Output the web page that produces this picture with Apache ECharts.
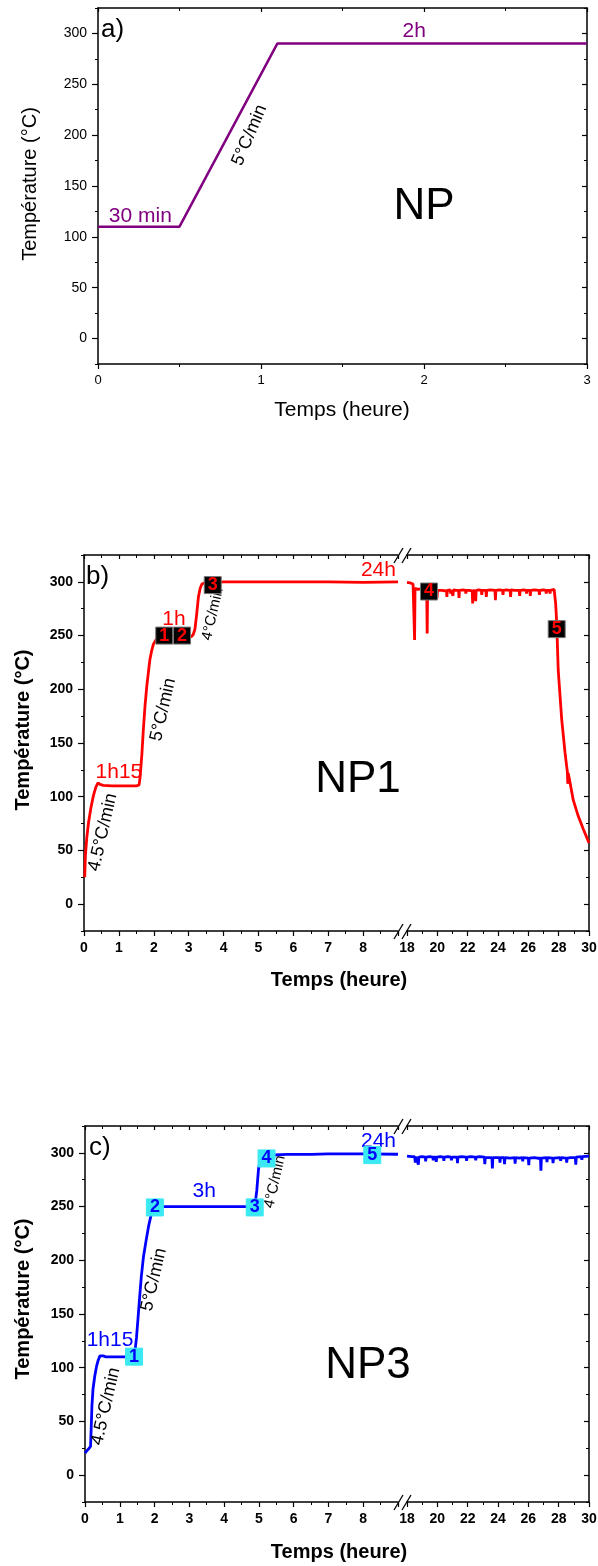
<!DOCTYPE html>
<html>
<head>
<meta charset="utf-8">
<title>Profils de température NP / NP1 / NP3</title>
<script src="https://cdn.jsdelivr.net/npm/echarts@6.0.0/dist/echarts.min.js"></script>
<style>
  html, body { margin: 0; padding: 0; background: #fff; }
  #chart { width: 598px; height: 1566px; }
</style>
</head>
<body>
<div id="chart"></div>
<script>
const FONT = 'Arial, "Liberation Sans", sans-serif';

// ---- values ----
const yTicks = [0, 50, 100, 150, 200, 250, 300];
const yMinor = [-25, 25, 75, 125, 175, 225, 275, 325];

// a) NP : programmed profile  [heure, °C]
const npProfile = [[0, 110], [0.5, 110], [1.1, 290], [3, 290]];
const npNoteText = ['30 min', '5°C/min', '2h'];
const npNoteTime = [0.26, 0.93, 1.94];
const npNoteTemp = [120, 200, 302];

// b) NP1 : measured, 0-9 h then 18-30 h
const np1Early = [
  [0.02, 25], [0.04, 45], [0.08, 62], [0.13, 76], [0.2, 90], [0.27, 101], [0.34, 109], [0.4, 113],
  [0.46, 111.5], [0.55, 110.5], [0.8, 110], [1.2, 110], [1.5, 110], [1.58, 111], [1.61, 119],
  [1.66, 140], [1.7, 162], [1.75, 185], [1.8, 203], [1.85, 217], [1.89, 228], [1.94, 236],
  [1.99, 242], [2.06, 246], [2.13, 248], [2.2, 249.5], [2.5, 250], [2.8, 249.5], [3.08, 249],
  [3.13, 251], [3.18, 256], [3.23, 270], [3.28, 286], [3.33, 294], [3.38, 298], [3.45, 299],
  [3.6, 299], [4.0, 300], [5.0, 300], [6.0, 300], [7.0, 300], [8.0, 299.5], [9.0, 300]
];
const np1Late = [
  [18.0, 299.5], [18.2, 299], [18.4, 298], [18.47, 297], [18.5, 246], [18.53, 294], [18.7, 293],
  [18.9, 293.5], [19.1, 292.5], [19.3, 292], [19.33, 252], [19.36, 292], [19.6, 292.5], [19.75, 292],
  [19.78, 288], [19.81, 292], [19.95, 292.5], [19.98, 285], [20.01, 292], [20.3, 292], [20.6, 291.5],
  [20.63, 286], [20.66, 292], [20.85, 292.5], [20.88, 289], [20.91, 292], [21.0, 292], [21.03, 287],
  [21.06, 292.5], [21.25, 292], [21.4, 292], [21.43, 285], [21.46, 292], [21.7, 292.5], [21.85, 292],
  [21.88, 289], [21.91, 292], [22.1, 292], [22.3, 291.5], [22.33, 280], [22.36, 292], [22.5, 291.5],
  [22.53, 282], [22.56, 292], [22.75, 292.5], [22.9, 292], [22.93, 288], [22.96, 292], [23.2, 292],
  [23.23, 286], [23.26, 292], [23.5, 292.5], [23.8, 292], [23.83, 283], [23.86, 292], [24.1, 292.5],
  [24.3, 292], [24.33, 288], [24.36, 292], [24.55, 292.5], [24.8, 292], [24.83, 286], [24.86, 292.5],
  [25.1, 292], [25.4, 292], [25.43, 287], [25.46, 292], [25.7, 292.5], [25.85, 292], [25.88, 289],
  [25.91, 292], [26.1, 292], [26.13, 287], [26.16, 292], [26.4, 292.5], [26.7, 292], [26.73, 288],
  [26.76, 292], [27.0, 292.5], [27.15, 292], [27.18, 289], [27.21, 292], [27.4, 292], [27.43, 289],
  [27.46, 292], [27.7, 293], [27.8, 280], [27.87, 262], [27.97, 218], [28.2, 172], [28.42, 141],
  [28.53, 128], [28.57, 124], [28.6, 112], [28.63, 122], [28.7, 117], [28.96, 97], [29.29, 82],
  [29.62, 70], [30.0, 57]
];
const np1NoteText = ['1h15', '4.5°C/min', '5°C/min', '1h', '4°C/min', '24h'];
const np1NoteTime = [1.0, 0.54, 2.27, 2.58, 3.69, 8.44];
const np1NoteTemp = [123, 67, 181, 265, 270, 311];
const np1StepText = ['1', '2', '3', '4', '5'];
const np1StepTime = [2.30, 2.81, 3.69, 19.45, 27.87];
const np1StepTemp = [250, 250, 297, 291, 256];

// c) NP3 : measured, 0-9 h then 18-30 h
const np3Early = [
  [0, 20.5], [0.06, 23], [0.12, 25], [0.16, 27], [0.18, 45], [0.2, 65], [0.23, 80], [0.28, 92],
  [0.33, 101], [0.38, 107], [0.43, 111], [0.48, 112], [0.53, 111], [0.6, 110], [0.9, 110], [1.2, 110],
  [1.38, 110.5], [1.44, 116], [1.48, 128], [1.52, 144], [1.57, 165], [1.62, 185], [1.68, 203],
  [1.76, 219], [1.83, 232], [1.9, 242], [1.96, 248], [2.02, 250], [2.5, 250], [3.0, 250], [3.5, 250],
  [4.0, 250], [4.5, 250], [4.84, 250], [4.89, 252], [4.94, 265], [4.99, 285], [5.04, 294], [5.1, 295],
  [5.2, 296.5], [5.3, 297], [5.45, 298], [5.8, 298.5], [6.5, 298.5], [7.0, 299], [8.0, 299], [9.0, 298.7]
];
const np3Late = [
  [18.0, 297], [18.3, 296.5], [18.5, 296.5], [18.55, 291], [18.6, 296.5], [18.72, 296], [18.75, 289],
  [18.78, 296], [19.0, 296.5], [19.2, 296], [19.23, 292], [19.26, 296], [19.5, 296.5], [19.7, 296],
  [19.73, 293], [19.76, 296], [19.9, 296], [19.93, 291.5], [19.96, 296], [20.2, 296.5], [20.4, 296],
  [20.43, 292.5], [20.46, 296], [20.7, 296.5], [20.9, 296], [20.93, 293], [20.96, 296], [21.3, 296],
  [21.33, 290.5], [21.36, 296], [21.6, 296.5], [21.9, 296], [21.93, 292.5], [21.96, 296], [22.2, 296.5],
  [22.5, 296], [22.53, 293], [22.56, 296], [22.8, 296.5], [23.1, 296], [23.13, 289.5], [23.16, 295.5],
  [23.4, 295.5], [23.6, 295.5], [23.63, 285.5], [23.66, 295.5], [23.9, 295.5], [24.1, 295.5],
  [24.13, 291], [24.16, 295.5], [24.4, 295.5], [24.43, 289.5], [24.46, 295.5], [24.8, 295],
  [25.1, 295.5], [25.13, 290], [25.16, 295.5], [25.4, 295], [25.6, 295.5], [25.63, 292], [25.66, 295.5],
  [26.0, 295], [26.03, 288.5], [26.06, 295], [26.4, 295.5], [26.6, 295], [26.8, 295], [26.83, 283.5],
  [26.86, 295], [27.2, 295.5], [27.23, 291.5], [27.26, 295.5], [27.6, 295], [27.63, 290.5], [27.66, 295],
  [28.1, 295.5], [28.13, 292.5], [28.16, 295.5], [28.5, 295], [28.53, 291], [28.56, 295], [28.8, 295.5],
  [29.1, 295.5], [29.13, 289], [29.16, 296], [29.5, 296.5], [29.53, 293.5], [29.56, 296.5], [30.0, 297]
];
const np3NoteText = ['1h15', '4.5°C/min', '5°C/min', '3h', '4°C/min', '24h'];
const np3NoteTime = [0.72, 0.60, 1.98, 3.43, 5.46, 8.44];
const np3NoteTemp = [126, 64, 182, 264, 273, 311];
const np3StepText = ['1', '2', '3', '4', '5'];
const np3StepTime = [1.41, 2.01, 4.88, 5.22, 8.26];
const np3StepTemp = [110.3, 249.2, 249.2, 294.8, 297.9];

// ---- layout ----
const grids = [
  { left: 98, top: 8, width: 489, height: 356 },     // a
  { left: 84, top: 555, width: 314, height: 376 },   // b, 0-9 h
  { left: 407, top: 555, width: 182, height: 376 },  // b, 18-30 h
  { left: 85, top: 1126, width: 313, height: 376 },  // c, 0-9 h
  { left: 407, top: 1126, width: 182, height: 376 }  // c, 18-30 h
].map(g => Object.assign({ containLabel: false, outerBoundsMode: 'none' }, g));

const xAxes = [];
const yAxes = [];
const black = { color: '#000', width: 1.2 };

function addX(grid, min, max, interval, fontSize, bold, hideMax) {
  const base = {
    type: 'value', gridIndex: grid, min, max, interval,
    splitLine: { show: false },
    axisLine: { onZero: false, lineStyle: { color: '#000', width: 1.5 } },
    minorTick: { show: true, splitNumber: 2, length: 3, lineStyle: { color: '#000', width: 1 } }
  };
  xAxes.push(Object.assign({}, base, {
    position: 'bottom',
    axisTick: { length: 5, lineStyle: black },
    axisLabel: {
      color: '#000', fontSize, fontWeight: bold ? 'bold' : 'normal', fontFamily: FONT, margin: 10,
      formatter: v => (hideMax && v === max) ? '' : String(v)
    }
  }));
  xAxes.push(Object.assign({}, base, {
    position: 'top',
    axisTick: { inside: true, length: 4, lineStyle: black },
    axisLabel: { show: false }
  }));
  return xAxes.length - 2;
}

function addY(grid, side, bold) {
  const inside = side === 'right';
  yAxes.push({
    type: 'value', gridIndex: grid, position: side, min: -25, max: 325,
    splitLine: { show: false },
    axisLine: { show: true, onZero: false, lineStyle: { color: '#000', width: 1.5 } },
    axisTick: { inside, length: inside ? 5 : 6, customValues: yTicks, lineStyle: black },
    axisLabel: {
      show: !inside, customValues: yTicks, color: '#000', fontSize: 14,
      fontWeight: bold ? 'bold' : 'normal', fontFamily: FONT, margin: 11
    }
  });
  const idx = yAxes.length - 1;
  yAxes.push({
    type: 'value', gridIndex: grid, position: side, min: -25, max: 325,
    splitLine: { show: false },
    axisLine: { show: false, onZero: false },
    axisTick: { inside, length: 3, customValues: yMinor, lineStyle: { color: '#000', width: 1 } },
    axisLabel: { show: false }
  });
  return idx;
}

const axA = { x: addX(0, 0, 3, 1, 13, false, false), y: 0 };
axA.y = addY(0, 'left', false);
addY(0, 'right', false);
const axB1 = { x: addX(1, 0, 9, 1, 14, true, true), y: addY(1, 'left', true) };
const axB2 = { x: addX(2, 18, 30, 2, 14, true, false), y: addY(2, 'right', true) };
const axC1 = { x: addX(3, 0, 9, 1, 14, true, true), y: addY(3, 'left', true) };
const axC2 = { x: addX(4, 18, 30, 2, 14, true, false), y: addY(4, 'right', true) };

// ---- series builders ----
function curve(ax, data, color, width) {
  return {
    type: 'line', xAxisIndex: ax.x, yAxisIndex: ax.y, data,
    symbol: 'none', silent: true, z: 2,
    lineStyle: { color, width }
  };
}

function notes(ax, texts, times, temps, color, slope) {
  return {
    type: 'scatter', xAxisIndex: ax.x, yAxisIndex: ax.y, silent: true, z: 3,
    symbolSize: 1, itemStyle: { color: 'rgba(0,0,0,0)', opacity: 1 },
    data: texts.map((t, i) => {
      const isRate = t.indexOf('°C/min') >= 0;
      return {
        value: [times[i], temps[i]],
        label: {
          show: true, position: 'inside', formatter: t, fontFamily: FONT, opacity: 1,
          color: isRate ? '#000' : color,
          fontSize: isRate ? (t.charAt(0) === '4' && t.charAt(1) === '°' ? 15 : 18) : 21,
          rotate: isRate ? slope : 0
        }
      };
    })
  };
}

function steps(ax, texts, times, temps, fill, ink, from, to) {
  const data = [];
  for (let i = from; i < to; i++) data.push({ value: [times[i], temps[i]], name: texts[i] });
  return {
    type: 'scatter', xAxisIndex: ax.x, yAxisIndex: ax.y, silent: true, z: 5,
    symbol: 'rect', symbolSize: 17,
    itemStyle: { color: fill, opacity: 1, borderColor: fill === '#000' ? '#777' : fill, borderWidth: 1 },
    label: {
      show: true, position: 'inside', formatter: p => p.name, opacity: 1,
      color: ink, fontSize: 18, fontWeight: 'bold', fontFamily: FONT
    },
    data
  };
}

const RED = '#ff0000', BLUE = '#0000ff', PURPLE = '#800080', CYAN = '#3ae9f2';

const series = [
  curve(axA, npProfile, PURPLE, 2.5),
  notes(axA, npNoteText, npNoteTime, npNoteTemp, PURPLE, 67),

  curve(axB1, np1Early, RED, 2.8),
  curve(axB2, np1Late, RED, 2.8),
  notes(axB1, np1NoteText, np1NoteTime, np1NoteTemp, RED, 77),
  steps(axB1, np1StepText, np1StepTime, np1StepTemp, '#000', RED, 0, 3),
  steps(axB2, np1StepText, np1StepTime, np1StepTemp, '#000', RED, 3, 5),

  curve(axC1, np3Early, BLUE, 2.8),
  curve(axC2, np3Late, BLUE, 2.8),
  notes(axC1, np3NoteText, np3NoteTime, np3NoteTemp, BLUE, 77),
  steps(axC1, np3StepText, np3StepTime, np3StepTemp, CYAN, BLUE, 0, 5)
];

// ---- free text and axis-break marks ----
function label(text, x, y, size, opts) {
  opts = opts || {};
  return {
    type: 'text', x, y, rotation: opts.rot || 0, silent: true,
    style: {
      text, fill: '#000', fontSize: size, fontFamily: FONT, fontWeight: opts.bold ? 'bold' : 'normal',
      align: opts.align || 'center', textAlign: opts.align || 'center',
      verticalAlign: 'middle', textVerticalAlign: 'middle'
    }
  };
}
function breakMarks(yLine) {
  const s = { stroke: '#000', lineWidth: 1.3 };
  return [
    { type: 'line', silent: true, shape: { x1: 394, y1: yLine + 8, x2: 403, y2: yLine - 7 }, style: s },
    { type: 'line', silent: true, shape: { x1: 402, y1: yLine + 8, x2: 411, y2: yLine - 7 }, style: s }
  ];
}

const graphic = [
  label('a)', 101, 30, 26, { align: 'left' }),
  label('b)', 86, 577, 26, { align: 'left' }),
  label('c)', 89, 1148, 26, { align: 'left' }),
  label('NP', 424, 207, 44),
  label('NP1', 358, 780, 44),
  label('NP3', 368, 1366, 44),
  label('Température (°C)', 30, 184, 20, { rot: Math.PI / 2 }),
  label('Température (°C)', 23, 730, 20, { rot: Math.PI / 2, bold: true }),
  label('Température (°C)', 23, 1299, 20, { rot: Math.PI / 2, bold: true }),
  label('Temps (heure)', 342, 410, 21),
  label('Temps (heure)', 339, 980, 20, { bold: true }),
  label('Temps (heure)', 339, 1552, 20, { bold: true })
].concat(breakMarks(555), breakMarks(931), breakMarks(1126), breakMarks(1502));

const chart = echarts.init(document.getElementById('chart'), null, { renderer: 'canvas' });
chart.setOption({
  animation: false,
  backgroundColor: '#fff',
  textStyle: { fontFamily: FONT },
  grid: grids,
  xAxis: xAxes,
  yAxis: yAxes,
  series,
  graphic
});
</script>
</body>
</html>
